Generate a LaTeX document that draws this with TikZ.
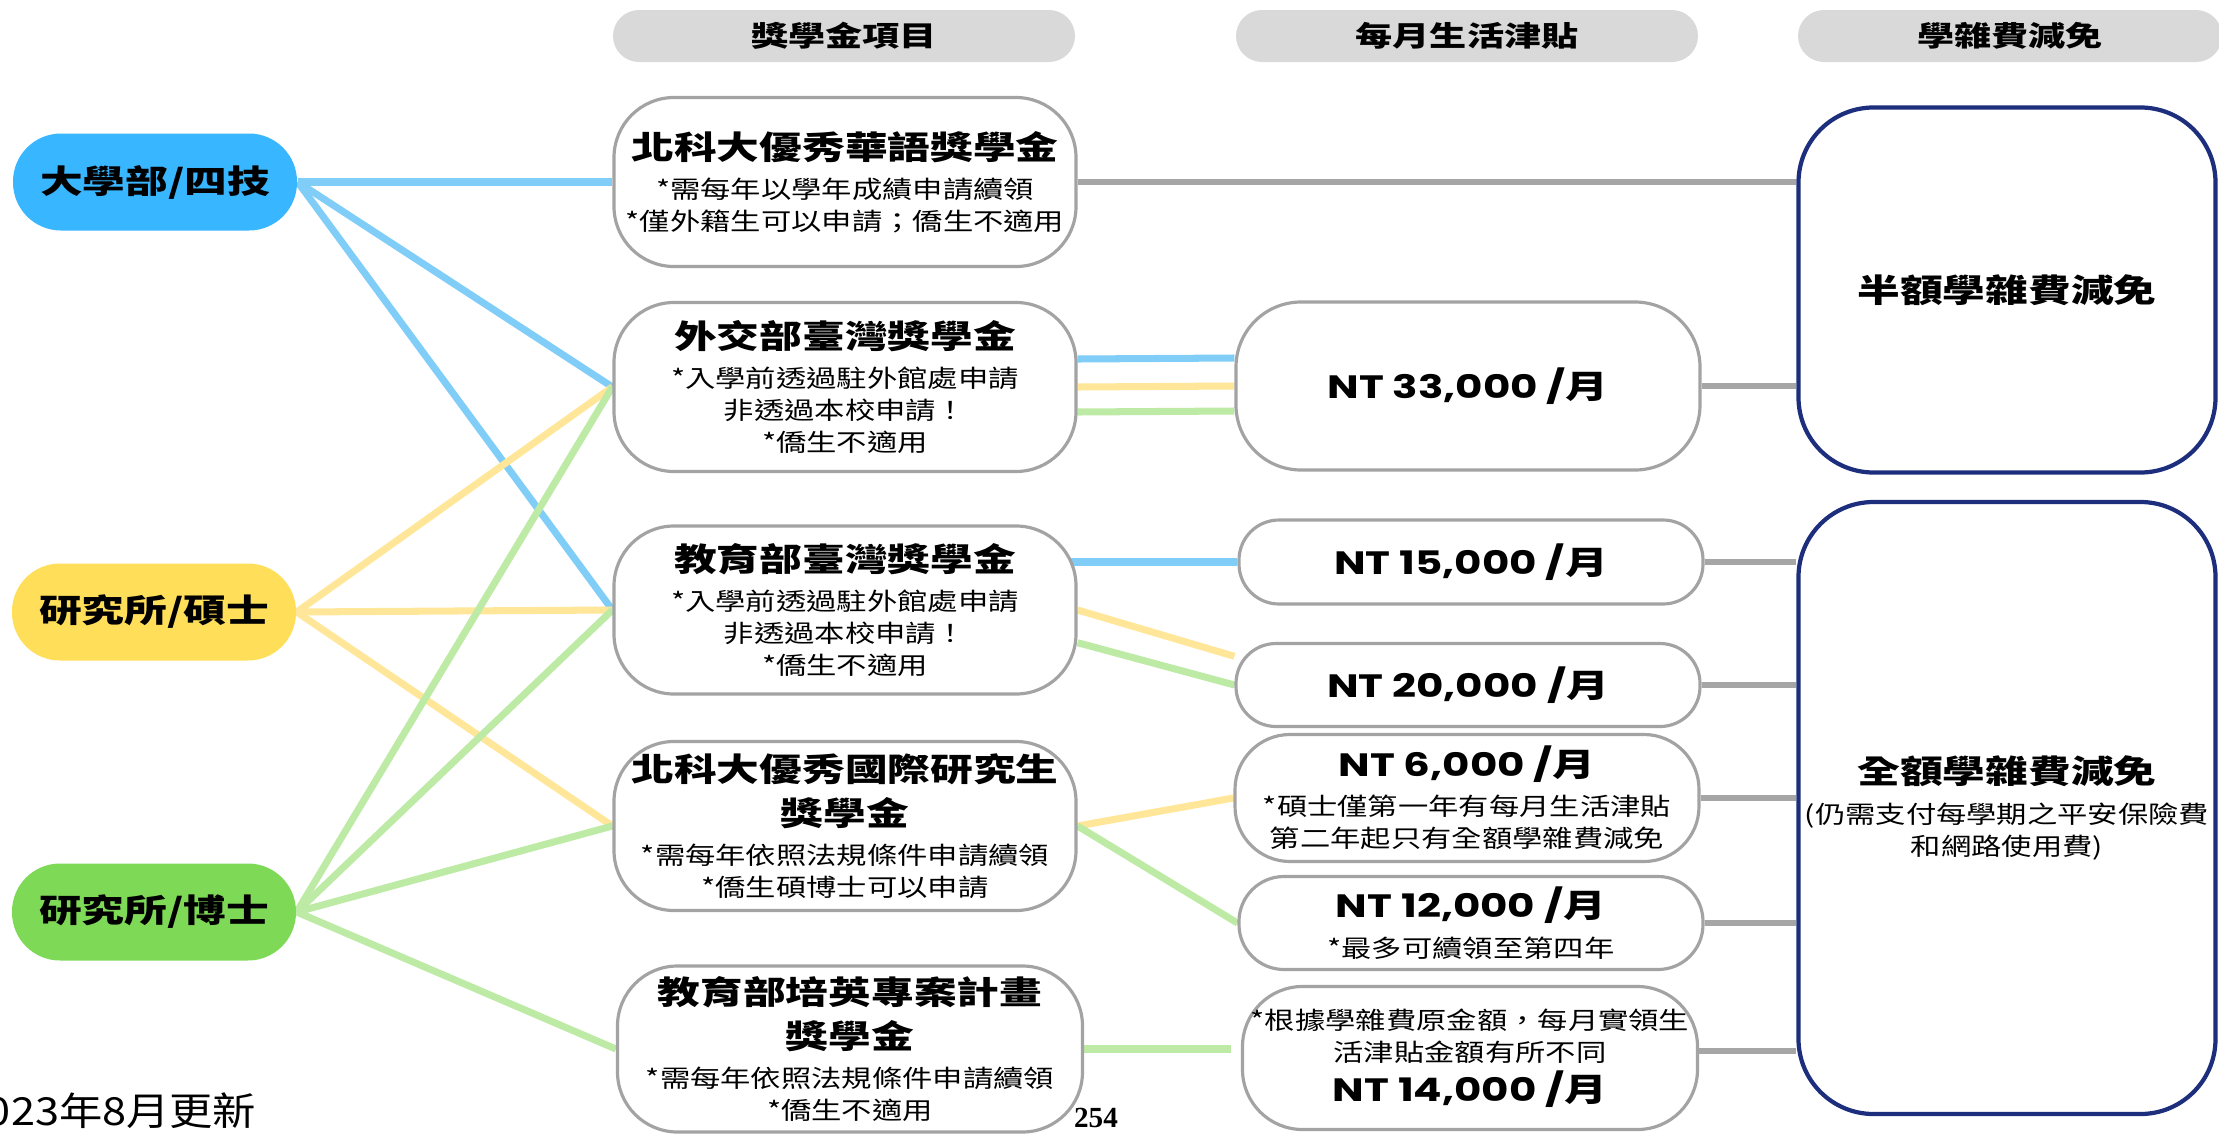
\documentclass[tikz,border=0pt]{standalone}
\usepackage{fontspec}
\setmainfont{Noto Sans CJK TC}[UprightFeatures={FakeStretch=1.25}, BoldFeatures={FakeStretch=1.32}]
\newfontfamily\ntfont{Poppins}[FakeStretch=1.3]
\newfontfamily\datefont{Noto Sans CJK TC}[FakeStretch=1.12]
\newfontfamily\pagefont{Liberation Serif}
\usetikzlibrary{positioning, calc, backgrounds}
\definecolor{lvblue}{HTML}{38B6FF}
\definecolor{lvyellow}{HTML}{FFDE59}
\definecolor{lvgreen}{HTML}{7ED957}
\definecolor{lnblue}{HTML}{80CDF8}
\definecolor{lnyellow}{HTML}{FFE699}
\definecolor{lngreen}{HTML}{BDEBA5}
\definecolor{lngray}{HTML}{A6A6A6}
\definecolor{bxgray}{HTML}{A3A3A3}
\definecolor{hdgray}{HTML}{D9D9D9}
\definecolor{fenavy}{HTML}{1C2E7C}
\newcommand{\titletxt}{\fontsize{9.2pt}{12.5pt}\selectfont\bfseries}
\newcommand{\subtxt}{\fontsize{6.9pt}{9.1pt}\selectfont\lineskiplimit=-20pt}
\newcommand{\headtxt}{\fontsize{8.0pt}{10pt}\selectfont\bfseries}
\newcommand{\ntamt}[1]{{\ntfont NT #1 /}月}

\begin{document}
\begin{tikzpicture}[
  lvnode/.style={rectangle, rounded corners=0.48cm, minimum width=2.84cm, minimum height=0.97cm, inner sep=0pt, font=\titletxt},
  hdnode/.style={rectangle, rounded corners=0.26cm, fill=hdgray, minimum width=4.62cm, minimum height=0.52cm, inner sep=0pt, font=\headtxt},
  schnode/.style={rectangle, rounded corners=0.6cm, draw=bxgray, line width=0.9pt, fill=white, minimum width=4.62cm, inner sep=0pt, align=center, font=\subtxt},
  amtnode/.style={schnode, rounded corners=0.4cm, minimum width=4.64cm},
  feenode/.style={rectangle, rounded corners=0.75cm, draw=fenavy, line width=1.2pt, fill=white, minimum width=4.17cm, inner sep=0pt, align=center, font=\subtxt},
  blueline/.style={lnblue, line width=2pt},
  yellowline/.style={lnyellow, line width=2pt},
  greenline/.style={lngreen, line width=2pt},
  grayline/.style={lngray, line width=1.8pt},
]
\useasboundingbox (0,0) rectangle (22.19,-11.34);
\node[hdnode] (hd1) at (8.44,-0.36) {獎學金項目};
\node[hdnode] (hd2) at (14.67,-0.36) {每月生活津貼};
\node[hdnode, minimum width=4.24cm] (hd3) at (20.10,-0.36) {學雜費減免};
\node[lvnode, fill=lvblue] (ug) at (1.55,-1.82) {大學部/四技};
\node[lvnode, fill=lvyellow] (ms) at (1.54,-6.12) {研究所/碩士};
\node[lvnode, fill=lvgreen] (phd) at (1.54,-9.12) {研究所/博士};
\node[schnode, minimum height=1.69cm] (huayu) at (8.45,-1.82) {{\titletxt 北科大優秀華語獎學金}\\[2.1pt] *需每年以學年成績申請續領\\ *僅外籍生可以申請；僑生不適用};
\node[schnode, minimum height=1.69cm] (mofa) at (8.45,-3.87) {{\titletxt 外交部臺灣獎學金}\\[2.1pt] *入學前透過駐外館處申請\\ 非透過本校申請！\\ *僑生不適用};
\node[schnode, minimum height=1.68cm] (moe) at (8.45,-6.10) {{\titletxt 教育部臺灣獎學金}\\[2.1pt] *入學前透過駐外館處申請\\ 非透過本校申請！\\ *僑生不適用};
\node[schnode, minimum height=1.69cm] (intl) at (8.45,-8.26) {{\titletxt 北科大優秀國際研究生}\\[3.4pt] {\titletxt 獎學金}\\[2.1pt] *需每年依照法規條件申請續領\\ *僑生碩博士可以申請};
\node[schnode, minimum height=1.66cm, minimum width=4.65cm] (peiying) at (8.50,-10.49) {{\titletxt 教育部培英專案計畫}\\[3.4pt] {\titletxt 獎學金}\\[2.1pt] *需每年依照法規條件申請續領\\ *僑生不適用};
\node[amtnode, rounded corners=0.65cm, minimum height=1.68cm] (nt33) at (14.68,-3.86) {{\titletxt\ntamt{33,000}}};
\node[amtnode, minimum height=0.84cm] (nt15) at (14.71,-5.62) {{\titletxt\ntamt{15,000}}};
\node[amtnode, minimum height=0.83cm] (nt20) at (14.68,-6.85) {{\titletxt\ntamt{20,000}}};
\node[amtnode, rounded corners=0.55cm, minimum height=1.27cm] (nt6) at (14.67,-7.98) {{\titletxt\ntamt{6,000}}\\[2.1pt] *碩士僅第一年有每月生活津貼\\ 第二年起只有全額學雜費減免};
\node[amtnode, rounded corners=0.45cm, minimum height=0.93cm] (nt12) at (14.71,-9.23) {{\titletxt\ntamt{12,000}}\\[2.1pt] *最多可續領至第四年};
\node[amtnode, rounded corners=0.6cm, minimum height=1.43cm, minimum width=4.55cm] (nt14) at (14.70,-10.58) {*根據學雜費原金額，每月實領生\\ 活津貼金額有所不同\\[2.3pt] {\titletxt\ntamt{14,000}}};
\node[feenode, minimum height=3.65cm] (half) at (20.07,-2.90) {{\titletxt 半額學雜費減免}};
\node[feenode, minimum height=6.12cm] (full) at (20.07,-8.08) {{\titletxt 全額學雜費減免}\\[2.3pt] (仍需支付每學期之平安保險費\\ 和網路使用費)};
\node[anchor=east, inner sep=0pt, font=\datefont\fontsize{11pt}{13pt}\selectfont] (upd) at (2.57,-11.11) {2023年8月更新};
\node[inner sep=0pt, font=\pagefont\bfseries\fontsize{8.3pt}{10pt}\selectfont] (pg) at (10.96,-11.18) {254};
\begin{scope}[on background layer]
\draw[blueline] (ug.east)--(huayu.west); \draw[blueline] (ug.east)--(mofa.west); \draw[blueline] (ug.east)--(moe.west);
\draw[yellowline] (ms.east)--(mofa.west); \draw[yellowline] (ms.east)--(moe.west); \draw[yellowline] (ms.east)--(intl.west);
\draw[greenline] (phd.east)--(mofa.west); \draw[greenline] (phd.east)--(moe.west); \draw[greenline] (phd.east)--(intl.west); \draw[greenline] (phd.east)--(peiying.west);
\draw[blueline] ([yshift=0.28cm]mofa.east)--([yshift=0.28cm]nt33.west);
\draw[yellowline] (mofa.east)--(nt33.west);
\draw[greenline] ([yshift=-0.25cm]mofa.east)--([yshift=-0.25cm]nt33.west);
\draw[blueline] (nt15.west -| moe.center)--(nt15.west);
\draw[yellowline] (moe.east)--(nt20.173); \draw[greenline] (moe.-8)--(nt20.west);
\draw[yellowline] (intl.east)--(nt6.west); \draw[greenline] (intl.east)--(nt12.west);
\draw[greenline, shorten >=0.1cm] (peiying.east)--(peiying.east -| nt14.west);
\draw[grayline] (huayu.east)--(huayu.east -| half.west); \draw[grayline] (nt33.east)--(nt33.east -| half.west);
\draw[grayline] (nt15.east)--(nt15.east -| full.west); \draw[grayline] (nt20.east)--(nt20.east -| full.west);
\draw[grayline] (nt6.east)--(nt6.east -| full.west); \draw[grayline] (nt12.east)--(nt12.east -| full.west);
\draw[grayline] ([yshift=0.07cm]nt14.east)--([yshift=0.07cm]nt14.east -| full.west);
\end{scope}
\end{tikzpicture}
\end{document}
